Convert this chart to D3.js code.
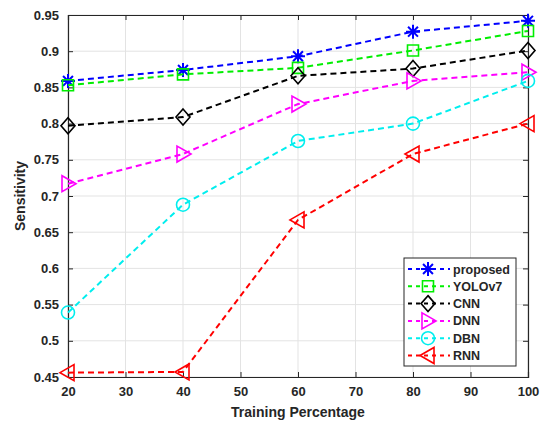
<!DOCTYPE html>
<html>
<head>
<meta charset="utf-8">
<script src="https://cdn.jsdelivr.net/npm/d3@7"></script>
<style>
  body { margin: 0; background: #fff; }
  text { font-family: "Liberation Sans", Arial, sans-serif; font-weight: bold; fill: #262626; }
</style>
</head>
<body>
<script>
'use strict';

// data
const trainingPct = [20, 40, 60, 80, 100];
const proposed = [0.859, 0.874, 0.893, 0.927, 0.942];
const yolov7 = [0.853, 0.868, 0.877, 0.901, 0.928];
const cnn = [0.797, 0.809, 0.866, 0.876, 0.901];
const dnn = [0.717, 0.758, 0.827, 0.859, 0.871];
const dbn = [0.539, 0.688, 0.776, 0.800, 0.859];
const rnn = [0.456, 0.457, 0.667, 0.758, 0.800];
const xTicks = [20, 30, 40, 50, 60, 70, 80, 90, 100];
const yTicks = [0.45, 0.5, 0.55, 0.6, 0.65, 0.7, 0.75, 0.8, 0.85, 0.9, 0.95];

const series = [
  { name: 'proposed', values: proposed, color: '#0000ff', marker: 'star' },
  { name: 'YOLOv7', values: yolov7, color: '#00ee00', marker: 'square' },
  { name: 'CNN', values: cnn, color: '#000000', marker: 'diamond' },
  { name: 'DNN', values: dnn, color: '#ff00ff', marker: 'triRight' },
  { name: 'DBN', values: dbn, color: '#00eeee', marker: 'circle' },
  { name: 'RNN', values: rnn, color: '#ff0000', marker: 'triLeft' }
];

const W = 547, H = 425;
const m = { left: 68, top: 15, right: 19, bottom: 48 };

const svg = d3.select('body').append('svg')
  .attr('width', W).attr('height', H);

const x = d3.scaleLinear().domain([20, 100]).range([m.left, W - m.right]);
const y = d3.scaleLinear().domain([0.45, 0.95]).range([H - m.bottom, m.top]);

// grid
svg.append('g').selectAll('line').data(xTicks).enter().append('line')
  .attr('x1', d => x(d)).attr('x2', d => x(d))
  .attr('y1', y(0.45)).attr('y2', y(0.95))
  .attr('stroke', '#e3e3e3').attr('stroke-width', 1);
svg.append('g').selectAll('line').data(yTicks).enter().append('line')
  .attr('y1', d => y(d)).attr('y2', d => y(d))
  .attr('x1', x(20)).attr('x2', x(100))
  .attr('stroke', '#e3e3e3').attr('stroke-width', 1);

// axes, ticks pointing inward, mirrored on top and right
const fmtY = d => d3.format('.2~f')(d);
const axB = svg.append('g').attr('transform', `translate(0,${y(0.45)})`)
  .call(d3.axisBottom(x).tickValues(xTicks).tickSize(-5).tickPadding(10));
const axT = svg.append('g').attr('transform', `translate(0,${y(0.95)})`)
  .call(d3.axisTop(x).tickValues(xTicks).tickSize(-5).tickFormat(''));
const axL = svg.append('g').attr('transform', `translate(${x(20)},0)`)
  .call(d3.axisLeft(y).tickValues(yTicks).tickSize(-5).tickPadding(9).tickFormat(fmtY));
const axR = svg.append('g').attr('transform', `translate(${x(100)},0)`)
  .call(d3.axisRight(y).tickValues(yTicks).tickSize(-5).tickFormat(''));

[axB, axT, axL, axR].forEach(a => {
  a.select('.domain').attr('stroke', '#262626').attr('stroke-width', 1.2);
  a.selectAll('.tick line').attr('stroke', '#262626');
  a.selectAll('text').attr('font-size', 13).attr('font-family', '"Liberation Sans", Arial, sans-serif')
    .attr('font-weight', 'bold').attr('fill', '#262626');
});

svg.append('text')
  .attr('x', (x(20) + x(100)) / 2).attr('y', H - 8)
  .attr('text-anchor', 'middle').attr('font-size', 14)
  .text('Training Percentage');
svg.append('text')
  .attr('transform', `translate(25,${(y(0.45) + y(0.95)) / 2}) rotate(-90)`)
  .attr('text-anchor', 'middle').attr('font-size', 14)
  .text('Sensitivity');

// markers
function drawMarker(g, type, cx, cy, color) {
  const s = 7;
  const p = d3.path();
  if (type === 'star') {
    for (let i = 0; i < 4; i++) {
      const a = i * Math.PI / 4;
      p.moveTo(cx - s * Math.cos(a), cy - s * Math.sin(a));
      p.lineTo(cx + s * Math.cos(a), cy + s * Math.sin(a));
    }
  } else if (type === 'square') {
    const h = 5.5;
    p.rect(cx - h, cy - h, 2 * h, 2 * h);
  } else if (type === 'diamond') {
    p.moveTo(cx, cy - 8); p.lineTo(cx + 7, cy); p.lineTo(cx, cy + 8); p.lineTo(cx - 7, cy); p.closePath();
  } else if (type === 'triRight') {
    p.moveTo(cx + 8, cy); p.lineTo(cx - 6, cy - 8); p.lineTo(cx - 6, cy + 8); p.closePath();
  } else if (type === 'triLeft') {
    p.moveTo(cx - 8, cy); p.lineTo(cx + 6, cy - 8); p.lineTo(cx + 6, cy + 8); p.closePath();
  } else if (type === 'circle') {
    p.arc(cx, cy, 6.5, 0, 2 * Math.PI);
  }
  g.append('path').attr('d', p.toString())
    .attr('fill', 'none').attr('stroke', color)
    .attr('stroke-width', type === 'star' ? 2 : 1.6);
}

const line = d3.line().x((d, i) => x(trainingPct[i])).y(d => y(d));

series.forEach(s => {
  const g = svg.append('g');
  g.append('path').datum(s.values)
    .attr('d', line)
    .attr('fill', 'none').attr('stroke', s.color)
    .attr('stroke-width', 2).attr('stroke-dasharray', '6,4');
  s.values.forEach((v, i) => drawMarker(g, s.marker, x(trainingPct[i]), y(v), s.color));
});

// legend
const lg = svg.append('g');
lg.append('rect')
  .attr('x', 404).attr('y', 258).attr('width', 112).attr('height', 108)
  .attr('fill', '#fff').attr('stroke', '#262626').attr('stroke-width', 1);
series.forEach((s, i) => {
  const ly = 269 + i * 17.3;
  lg.append('line')
    .attr('x1', 408).attr('x2', 450).attr('y1', ly).attr('y2', ly)
    .attr('stroke', s.color).attr('stroke-width', 2).attr('stroke-dasharray', '4,4');
  drawMarker(lg, s.marker, 428, ly, s.color);
  lg.append('text').attr('x', 453).attr('y', ly + 4.5)
    .attr('font-size', 12.5).text(s.name);
});
</script>
</body>
</html>
